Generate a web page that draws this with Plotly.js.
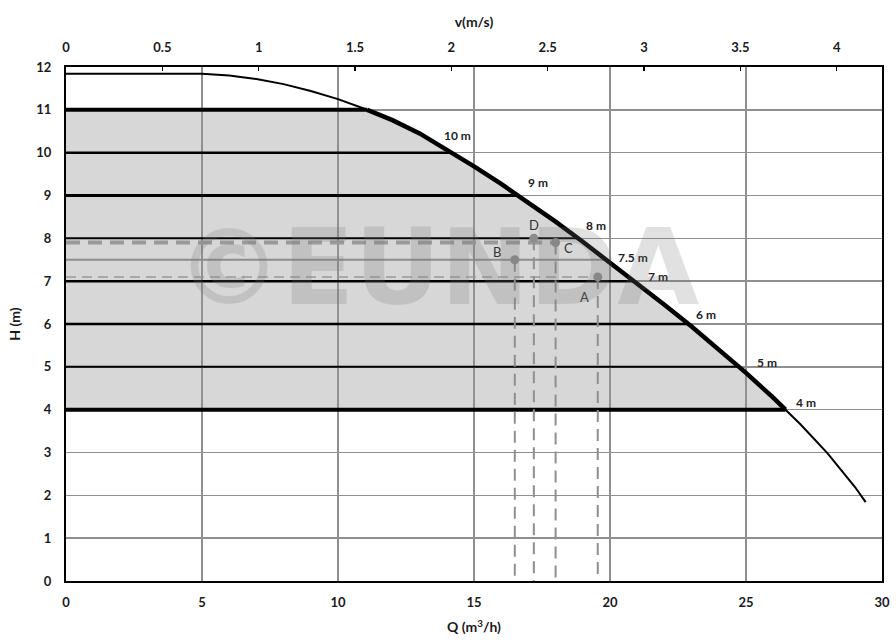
<!DOCTYPE html>
<html><head><meta charset="utf-8">
<script src="https://cdn.plot.ly/plotly-3.0.1.min.js"></script>
<style>html,body{margin:0;padding:0;background:#fff}#chart{width:896px;height:641px}</style>
</head><body><div id="chart"></div>
<script>
// Pump curve: flow Q (m3/h) vs head H (m)
const flowQ = [0,2,4,5,6,7,8,9,10,11,12,13,14,15,16,17,18,19,20,21,22,23,24,25,26,27,28,29,29.4];
const headH = [11.84,11.84,11.84,11.84,11.80,11.72,11.60,11.44,11.25,11.02,10.76,10.45,10.07,9.68,9.27,8.84,8.39,7.92,7.44,6.95,6.45,5.94,5.41,4.86,4.28,3.66,2.98,2.20,1.84];
// Head levels drawn from the H axis to the curve
const levelH = [11,10,9,8,7.5,7,6,5,4];
const levelLabels = ['','10 m','9 m','8 m','7.5 m','7 m','6 m','5 m','4 m'];
// Operating points
const pointNames = ['A','B','C','D'];
const pointQ = [19.55,16.5,18.0,17.2];
const pointH = [7.1,7.5,7.9,8.0];
// Velocity (top) axis ticks
const velTicks = [0,0.5,1,1.5,2,2.5,3,3.5,4];
const velLabels = ['0','0.5','1','1.5','2','2.5','3','3.5','4'];
const yTicks = [0,1,2,3,4,5,6,7,8,9,10,11,12];
const xTicks = [0,5,10,15,20,25,30];

// ---- styles ----
const levelStyle = {11:[4,'#000'],10:[2.5,'#000'],9:[3,'#000'],8:[2,'#000'],7.5:[2,'#8c8c8c'],7:[2.5,'#000'],6:[2.5,'#000'],5:[2,'#000'],4:[4,'#000']};
const labelShift = {10:[6,17],9:[20,13],8:[18,13],7.5:[26,2],7:[24,5],6:[18,10],5:[28,4],4:[21,7]};
const pointLabelShift = {A:[-13,-20],B:[-18,8],C:[13,-5],D:[0,13]};
const FONT = 'Lato, "Open Sans", sans-serif';

function qAtH(h){
  for(let i=0;i<flowQ.length-1;i++){
    const h1=headH[i], h2=headH[i+1];
    if(h1>=h && h2<=h && h1!==h2){
      return flowQ[i] + (h1-h)/(h1-h2)*(flowQ[i+1]-flowQ[i]);
    }
  }
  return null;
}

const hTop = levelH[0], hBot = levelH[levelH.length-1];
const qTop = qAtH(hTop), qBot = qAtH(hBot);
const segQ=[qTop], segH=[hTop];
for(let i=0;i<flowQ.length;i++){ if(headH[i]<hTop && headH[i]>hBot){segQ.push(flowQ[i]); segH.push(headH[i]);} }
segQ.push(qBot); segH.push(hBot);

const traces=[];
// shaded operating region
traces.push({x:[0].concat(segQ,[0]), y:[hTop].concat(segH,[hBot]), type:'scatter', mode:'lines',
  fill:'toself', fillcolor:'rgba(150,150,150,0.38)', line:{width:0}, hoverinfo:'skip', showlegend:false});
// level lines
levelH.forEach(h=>{
  const st=levelStyle[h];
  traces.push({x:[0,qAtH(h)], y:[h,h], type:'scatter', mode:'lines', line:{color:st[1], width:st[0]}, hoverinfo:'skip', showlegend:false});
});
// dashed guides
const iA=pointNames.indexOf('A'), iC=pointNames.indexOf('C');
traces.push({x:[0,pointQ[iC]], y:[pointH[iC],pointH[iC]], type:'scatter', mode:'lines', line:{color:'#9a9a9a', width:4, dash:'14px,8px'}, hoverinfo:'skip', showlegend:false});
traces.push({x:[0,pointQ[iA]], y:[pointH[iA],pointH[iA]], type:'scatter', mode:'lines', line:{color:'#9a9a9a', width:1.5, dash:'10px,6px'}, hoverinfo:'skip', showlegend:false});
pointNames.forEach((n,i)=>{
  traces.push({x:[pointQ[i],pointQ[i]], y:[pointH[i],0], type:'scatter', mode:'lines', line:{color:'#8f8f8f', width:2, dash:'12px,7px'}, hoverinfo:'skip', showlegend:false});
});
// pump curve thin + thick operating segment
traces.push({x:flowQ, y:headH, type:'scatter', mode:'lines', line:{color:'#000', width:2}, hoverinfo:'skip', showlegend:false});
traces.push({x:segQ, y:segH, type:'scatter', mode:'lines', line:{color:'#000', width:4.5}, hoverinfo:'skip', showlegend:false});
// points
traces.push({x:pointQ, y:pointH, type:'scatter', mode:'markers', marker:{color:'#8c8c8c', size:9}, hoverinfo:'skip', showlegend:false});
// top velocity axis carrier
traces.push({x:[velTicks[0]], y:[0], xaxis:'x2', type:'scatter', mode:'markers', marker:{opacity:0}, hoverinfo:'skip', showlegend:false});

const annotations=[];
levelH.forEach((h,i)=>{
  if(!levelLabels[i]) return;
  const s=labelShift[h];
  annotations.push({x:qAtH(h), y:h, text:levelLabels[i], showarrow:false, xshift:s[0], yshift:s[1],
    font:{family:FONT, size:12, color:'#222', weight:'bold'}});
});
pointNames.forEach((n,i)=>{
  const s=pointLabelShift[n];
  annotations.push({x:pointQ[i], y:pointH[i], text:n, showarrow:false, xshift:s[0], yshift:s[1],
    font:{family:FONT, size:13, color:'#333'}});
});
// watermark
annotations.push({xref:'paper', yref:'paper', x:0.455, y:0.61, text:'©EUNDA', showarrow:false,
  font:{family:'"DejaVu Sans", sans-serif', size:106, color:'rgba(120,120,120,0.22)', weight:'bold'}});

const tickFont={family:FONT, size:13, color:'#1a1a1a', weight:'bold'};
const titleFont={family:FONT, size:14, color:'#1a1a1a', weight:'bold'};

const layout={
  width:896, height:641,
  margin:{l:66, r:14, t:67, b:60},
  paper_bgcolor:'#fff', plot_bgcolor:'#fff',
  showlegend:false,
  xaxis:{range:[0,30], tickvals:xTicks, showgrid:true, gridcolor:'#8f8f8f', gridwidth:1.5,
    showline:true, linecolor:'#000', linewidth:2, mirror:true, zeroline:false, ticks:'',
    tickfont:tickFont, ticklabelstandoff:8,
    title:{text:'Q (m<sup>3</sup>/h)', font:titleFont, standoff:14}},
  xaxis2:{range:[0,4.235], overlaying:'x', side:'top', tickvals:velTicks, ticktext:velLabels,
    showgrid:false, zeroline:false, showline:true, linecolor:'#000', linewidth:2,
    ticks:'inside', ticklen:4, tickwidth:1.5, tickcolor:'#000', tickfont:tickFont, ticklabelstandoff:8,
    title:{text:'v(m/s)', font:titleFont, standoff:8}},
  yaxis:{range:[0,12], tickvals:yTicks, showgrid:true, gridcolor:'#8f8f8f', gridwidth:1.5,
    showline:true, linecolor:'#000', linewidth:2, mirror:true, zeroline:false, ticks:'',
    tickfont:tickFont, ticklabelstandoff:10,
    title:{text:'H (m)', font:titleFont, standoff:12}},
  annotations:annotations
};
Plotly.newPlot('chart', traces, layout, {staticPlot:true, displayModeBar:false});
</script>
</body></html>
